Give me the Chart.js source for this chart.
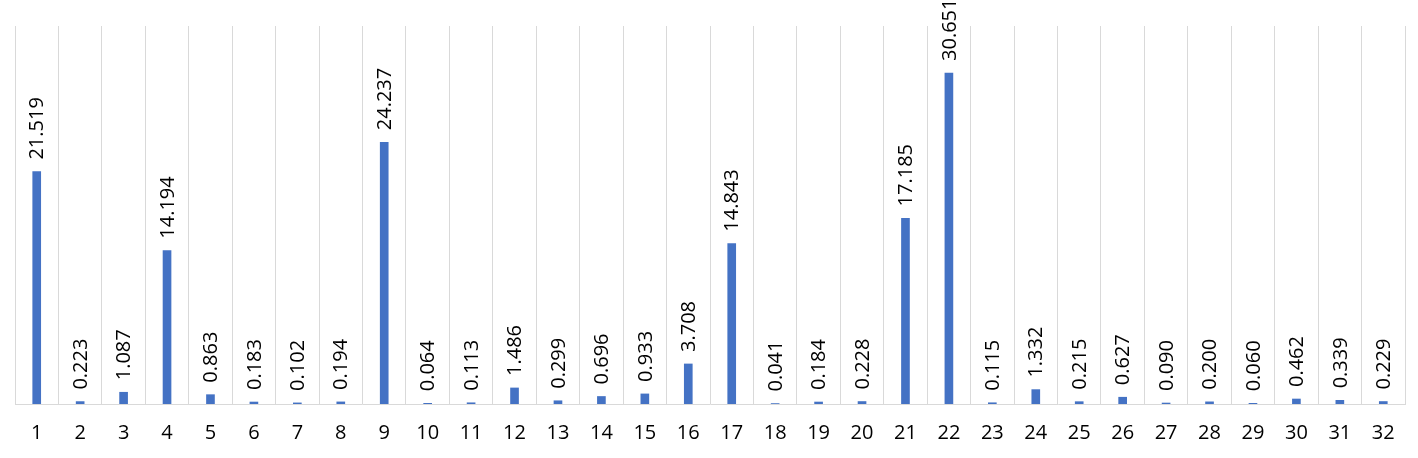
<!DOCTYPE html>
<html>
<head>
<meta charset="utf-8">
<script src="https://cdn.jsdelivr.net/npm/chart.js@4/dist/chart.umd.min.js"></script>
<style>
  html, body { margin: 0; padding: 0; background: #fff; }
  #wrap { width: 1418px; height: 458px; }
</style>
</head>
<body>
<div id="wrap"><canvas id="chart"></canvas></div>
<script>
const categories = [
  "1", "2", "3", "4", "5", "6", "7", "8", "9", "10", "11", "12", "13", "14", "15", "16",
  "17", "18", "19", "20", "21", "22", "23", "24", "25", "26", "27", "28", "29", "30", "31", "32"
];
const values = [
  21.519, 0.223, 1.087, 14.194, 0.863, 0.183, 0.102, 0.194, 24.237, 0.064, 0.113, 1.486, 0.299, 0.696, 0.933, 3.708,
  14.843, 0.041, 0.184, 0.228, 17.185, 30.651, 0.115, 1.332, 0.215, 0.627, 0.090, 0.200, 0.060, 0.462, 0.339, 0.229
];
const yMax = 35;

const fontFamily = "'Open Sans', sans-serif";

// value labels drawn vertically above each bar
const barLabels = {
  id: "barLabels",
  afterDatasetsDraw(chart) {
    const ctx = chart.ctx;
    const meta = chart.getDatasetMeta(0);
    ctx.save();
    ctx.fillStyle = "#000";
    ctx.font = "20px " + fontFamily;
    ctx.textAlign = "left";
    ctx.textBaseline = "middle";
    meta.data.forEach((bar, i) => {
      ctx.save();
      ctx.translate(bar.x + 1, bar.y - 12);
      ctx.rotate(-Math.PI / 2);
      ctx.fillText(values[i].toFixed(3), 0, 0);
      ctx.restore();
    });
    ctx.restore();
  }
};

new Chart(document.getElementById("chart"), {
  type: "bar",
  data: {
    labels: categories,
    datasets: [
      {
        data: values,
        backgroundColor: "#4472c4",
        barThickness: 8
      }
    ]
  },
  options: {
    responsive: true,
    maintainAspectRatio: false,
    animation: false,
    layout: { padding: { left: 15, right: 13, top: 26, bottom: 0 } },
    plugins: {
      legend: { display: false },
      tooltip: { enabled: false }
    },
    scales: {
      x: {
        grid: { color: "#d9d9d9", lineWidth: 1, drawTicks: false, offset: true },
        border: { color: "#d9d9d9" },
        ticks: {
          color: "#000",
          font: { family: fontFamily, size: 20 },
          padding: 17,
          maxRotation: 0,
          autoSkip: false
        },
        afterFit(scale) {
          scale.height = 54;
        }
      },
      y: {
        display: false,
        min: 0,
        max: yMax
      }
    }
  },
  plugins: [barLabels]
});
</script>
</body>
</html>
